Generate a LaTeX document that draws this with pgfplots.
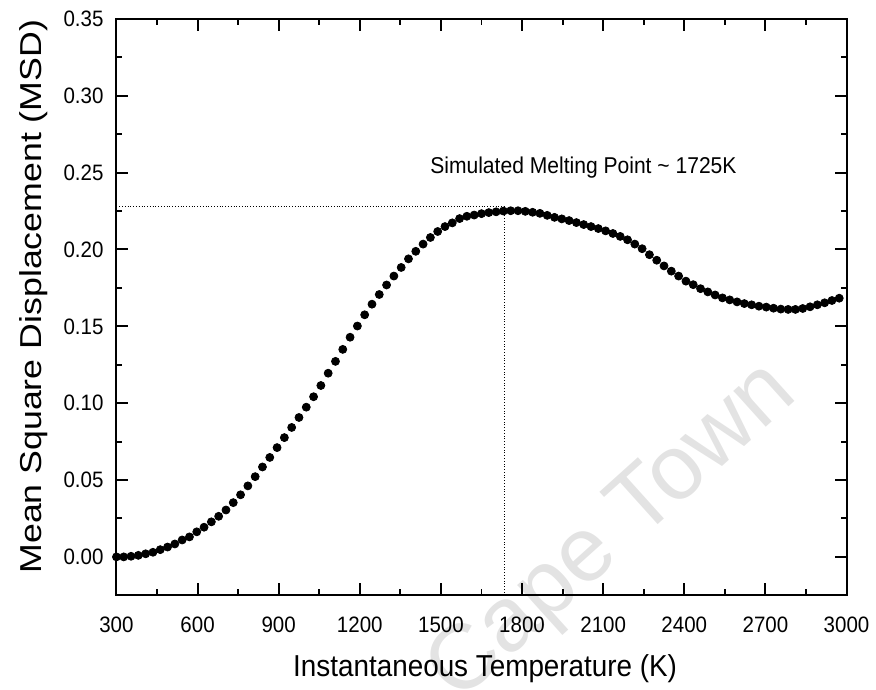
\documentclass[border=0pt]{standalone}
\usepackage{fontspec}
\setmainfont[FakeStretch=0.92]{Liberation Sans}
\newfontfamily\vfont[FakeStretch=1.18]{Liberation Sans}
\newfontfamily\wfont{Liberation Sans}
\usepackage{pgfplots}
\pgfplotsset{compat=1.18}
\pgfplotstableread{
x y
300 0.000
327 0.000
354 0.0004
381 0.001
408 0.002
435 0.003
462 0.0047
489 0.0064
516 0.0084
543 0.011
570 0.013
597 0.0163
624 0.0193
651 0.0228
678 0.0264
705 0.0305
732 0.0353
759 0.0404
786 0.0462
813 0.0522
840 0.0585
867 0.0647
894 0.0711
921 0.0776
948 0.0842
975 0.0907
1002 0.0974
1029 0.1042
1056 0.1115
1083 0.1195
1110 0.1272
1137 0.1350
1164 0.1429
1191 0.1502
1218 0.1575
1245 0.1644
1272 0.1707
1299 0.1769
1326 0.1827
1353 0.1883
1380 0.1939
1407 0.1988
1434 0.2035
1461 0.2078
1488 0.2117
1515 0.2149
1542 0.2173
1569 0.2201
1596 0.2216
1623 0.2224
1650 0.2233
1677 0.2240
1704 0.2245
1731 0.2250
1758 0.2252
1785 0.2252
1812 0.2248
1839 0.2242
1866 0.2235
1893 0.2222
1920 0.2209
1947 0.2199
1974 0.2188
2001 0.2175
2028 0.2162
2055 0.2149
2082 0.2136
2109 0.2121
2136 0.2104
2163 0.2085
2190 0.2063
2217 0.2035
2244 0.2005
2271 0.1966
2298 0.1930
2325 0.1893
2352 0.1859
2379 0.1827
2406 0.1794
2433 0.1771
2460 0.1745
2487 0.1724
2514 0.1704
2541 0.1685
2568 0.1672
2595 0.1659
2622 0.1648
2649 0.1640
2676 0.1631
2703 0.1625
2730 0.1618
2757 0.1612
2784 0.1610
2811 0.1610
2838 0.1616
2865 0.1627
2892 0.1640
2919 0.1653
2946 0.1668
2973 0.1683
}\msd
\begin{document}
\begin{tikzpicture}
\begin{axis}[
  set layers,
  scale only axis,
  width=366.7pt, height=289.5pt,
  xmin=300, xmax=3000,
  ymin=-0.025, ymax=0.35,
  xtick={300,600,...,3000},
  ytick={0,0.05,...,0.35},
  minor x tick num=1,
  minor y tick num=1,
  tick pos=both,
  tick align=inside,
  major tick length=6pt,
  minor tick length=3pt,
  axis line style={line width=1pt},
  every tick/.style={line width=1pt, black},
  /pgf/number format/assume math mode=true,
  xticklabel style={font=\fontsize{11.2}{13}\selectfont, yshift=-7.5pt},
  yticklabel style={font=\fontsize{11.2}{13}\selectfont, xshift=-3pt,
    /pgf/number format/.cd, fixed, fixed zerofill, precision=2},
  scaled y ticks=false,
  xticklabel={\pgfmathprintnumber[1000 sep={}]{\tick}},
  xlabel={Instantaneous Temperature (K)},
  ylabel={Mean Square Displacement (MSD)},
  xlabel style={font=\fontsize{15.2}{18}\selectfont, at={(axis description cs:0.505,-0.1416)}, anchor=base},
  ylabel style={font=\vfont\fontsize{15.2}{18}\selectfont, at={(axis description cs:-0.1025,0.518)}, anchor=base},
  clip=false,
]
\path (axis description cs:-0.1595,-0.1537) rectangle (axis description cs:1.0350,1.0328);
\begin{pgfonlayer}{axis background}
\node[overlay, rotate=42, text=black!11, font=\wfont\fontsize{46}{50}\selectfont] at (axis cs:2140,0.015) {Cape Town};
\end{pgfonlayer}
\addplot[densely dotted, line width=0.4pt, black] coordinates {(300,0.2281) (1735,0.2281)};
\addplot[densely dotted, line width=0.4pt, black] coordinates {(1735,-0.025) (1735,0.2281)};
\addplot[only marks, mark=*, mark size=2pt, black] table[x=x,y=y] {\msd};
\node[anchor=base, font=\fontsize{11.5}{14}\selectfont] at (axis cs:2027,0.2497) {Simulated Melting Point \textasciitilde{} 1725K};
\end{axis}
\end{tikzpicture}
\end{document}
